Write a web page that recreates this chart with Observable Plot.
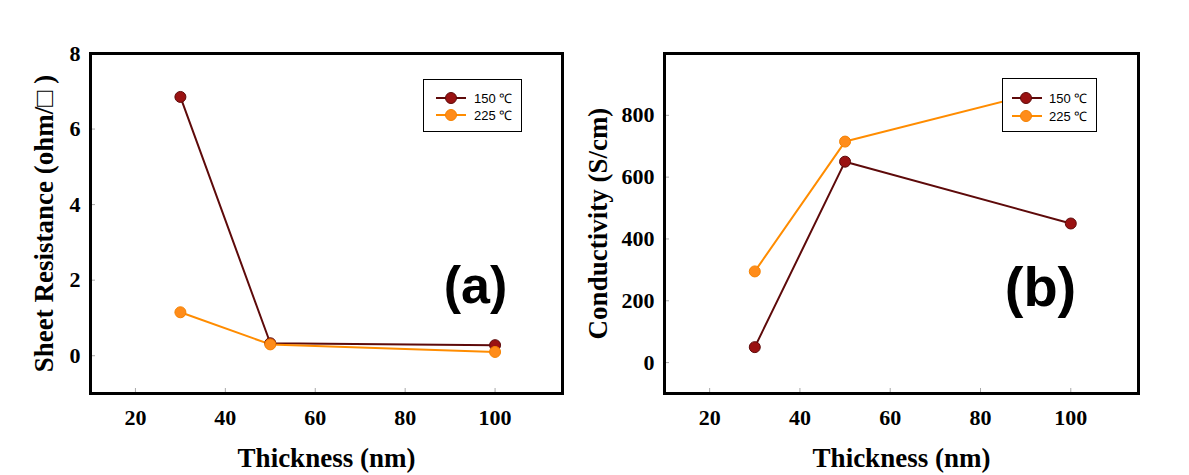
<!DOCTYPE html>
<html><head><meta charset="utf-8">
<script src="https://cdn.jsdelivr.net/npm/d3@7"></script>
<script src="https://cdn.jsdelivr.net/npm/@observablehq/plot@0.6"></script>
<style>
body{margin:0;background:#fff;}
#wrap{position:relative;width:1189px;height:475px;overflow:hidden;background:#fff;}
.panel{position:absolute;top:0;}
.legend{position:absolute;background:#fff;border:1px solid #000;box-sizing:border-box;font-family:"Liberation Sans",Arial,sans-serif;font-size:13px;color:#000;}
.legend .row{position:absolute;left:0;height:14px;}
.legend svg{position:absolute;top:0;}
.legend span{position:absolute;top:-2px;white-space:nowrap;}
g[aria-label="y-axis label"] text, g[aria-label="x-axis label"] text{font-size:27px;font-weight:bold;}
</style>
</head><body>
<div id="wrap"></div>
<script>
// ---- data ----
const thickness = [30, 50, 100];
const seriesNames = ["150 ℃", "225 ℃"];
const sheet150 = [6.85, 0.33, 0.28];
const sheet225 = [1.15, 0.30, 0.10];
const cond150 = [50, 650, 450];
const cond225 = [295, 715, 900];
const xTicks = [20, 40, 60, 80, 100];
const sheetTicks = [0, 2, 4, 6, 8];
const condTicks = [0, 200, 400, 600, 800];

const lineColors = ["#5e0a0a", "#ff8c00"];
const dotFill = ["#9a1212", "#ff8c1a"];
const dotStroke = ["#5e0a0a", "#f58200"];

function rows(vals) { return thickness.map((t, i) => ({t, v: vals[i]})); }

function panel(o) {
  const marks = [
    Plot.axisX(xTicks, {tickSize: -5, stroke: "#aaa", tickFormat: () => "", label: null}),
    Plot.axisY(o.yTicks, {tickSize: -5, stroke: "#aaa", tickFormat: () => "", label: null}),
    Plot.axisX(xTicks, {tickSize: 0, tickPadding: 16, fontSize: 22, fontWeight: "bold",
      label: "Thickness (nm)", labelAnchor: "center", labelArrow: "none", labelOffset: 73}),
    Plot.axisY(o.yTicks, {tickSize: 0, tickPadding: 10, fontSize: 22, fontWeight: "bold",
      label: o.yLabel, labelAnchor: "center", labelArrow: "none", labelOffset: o.yLabelOffset}),
    Plot.frame({stroke: "#000", strokeWidth: 3})
  ];
  o.data.forEach((vals, k) => {
    marks.push(Plot.line(rows(vals), {x: "t", y: "v", stroke: lineColors[k], strokeWidth: 2}));
  });
  o.data.forEach((vals, k) => {
    marks.push(Plot.dot(rows(vals), {x: "t", y: "v", r: 5.5, fill: dotFill[k], stroke: dotStroke[k], strokeWidth: 1}));
  });
  marks.push(Plot.text([o.tag], {frameAnchor: "bottom-right", dx: o.tagDx, dy: o.tagDy, text: d => d,
    fontSize: o.tagSize, fontWeight: "bold", fontFamily: "Liberation Sans, Arial, sans-serif",
    textAnchor: "middle", lineAnchor: "middle", fill: "#000"}));
  return Plot.plot({
    width: o.width, height: 475,
    marginLeft: 90, marginRight: o.marginRight, marginTop: 53, marginBottom: 82,
    x: {domain: [10, 115]},
    y: {domain: o.yDomain},
    style: {fontFamily: "Liberation Serif, 'Times New Roman', serif", color: "#000", background: "transparent", overflow: "visible"},
    marks
  });
}

function legend(o) {
  const div = document.createElement("div");
  div.className = "legend";
  Object.assign(div.style, {left: o.left + "px", top: o.top + "px", width: o.w + "px", height: o.h + "px"});
  seriesNames.forEach((name, k) => {
    const row = document.createElement("div");
    row.className = "row";
    row.style.top = (o.rowY[k] - 7) + "px";
    row.style.width = "100%";
    const svg = `<svg width="${o.lineX2 + 2}" height="14" style="left:0">
      <line x1="${o.lineX1}" x2="${o.lineX2}" y1="7" y2="7" stroke="${lineColors[k]}" stroke-width="2"/>
      <circle cx="${o.dotX}" cy="7" r="5.5" fill="${dotFill[k]}" stroke="${dotStroke[k]}" stroke-width="1"/></svg>`;
    row.innerHTML = svg + `<span style="left:${o.textX}px">${name}</span>`;
    div.appendChild(row);
  });
  return div;
}

const wrap = document.getElementById("wrap");

const pa = panel({data: [sheet150, sheet225], yDomain: [-1, 8], yTicks: sheetTicks,
  yLabel: "Sheet Resistance (ohm/□ )", yLabelOffset: 57, width: 600, marginRight: 38,
  tag: "(a)", tagDx: -87, tagDy: -107, tagSize: 52});
pa.classList.add("panel"); pa.style.left = "0px";
wrap.appendChild(pa);

const pb = panel({data: [cond150, cond225], yDomain: [-100, 1000], yTicks: condTicks,
  yLabel: "Conductivity (S/cm)", yLabelOffset: 77, width: 604, marginRight: 40,
  tag: "(b)", tagDx: -98, tagDy: -105, tagSize: 56});
pb.classList.add("panel"); pb.style.left = "574px";
wrap.appendChild(pb);

wrap.appendChild(legend({left: 423, top: 79, w: 99, h: 53, rowY: [18, 35], lineX1: 12, lineX2: 42, dotX: 27, textX: 50}));
wrap.appendChild(legend({left: 1002, top: 78, w: 95, h: 54, rowY: [19, 37], lineX1: 9, lineX2: 39, dotX: 23, textX: 46}));
</script>
</body></html>
